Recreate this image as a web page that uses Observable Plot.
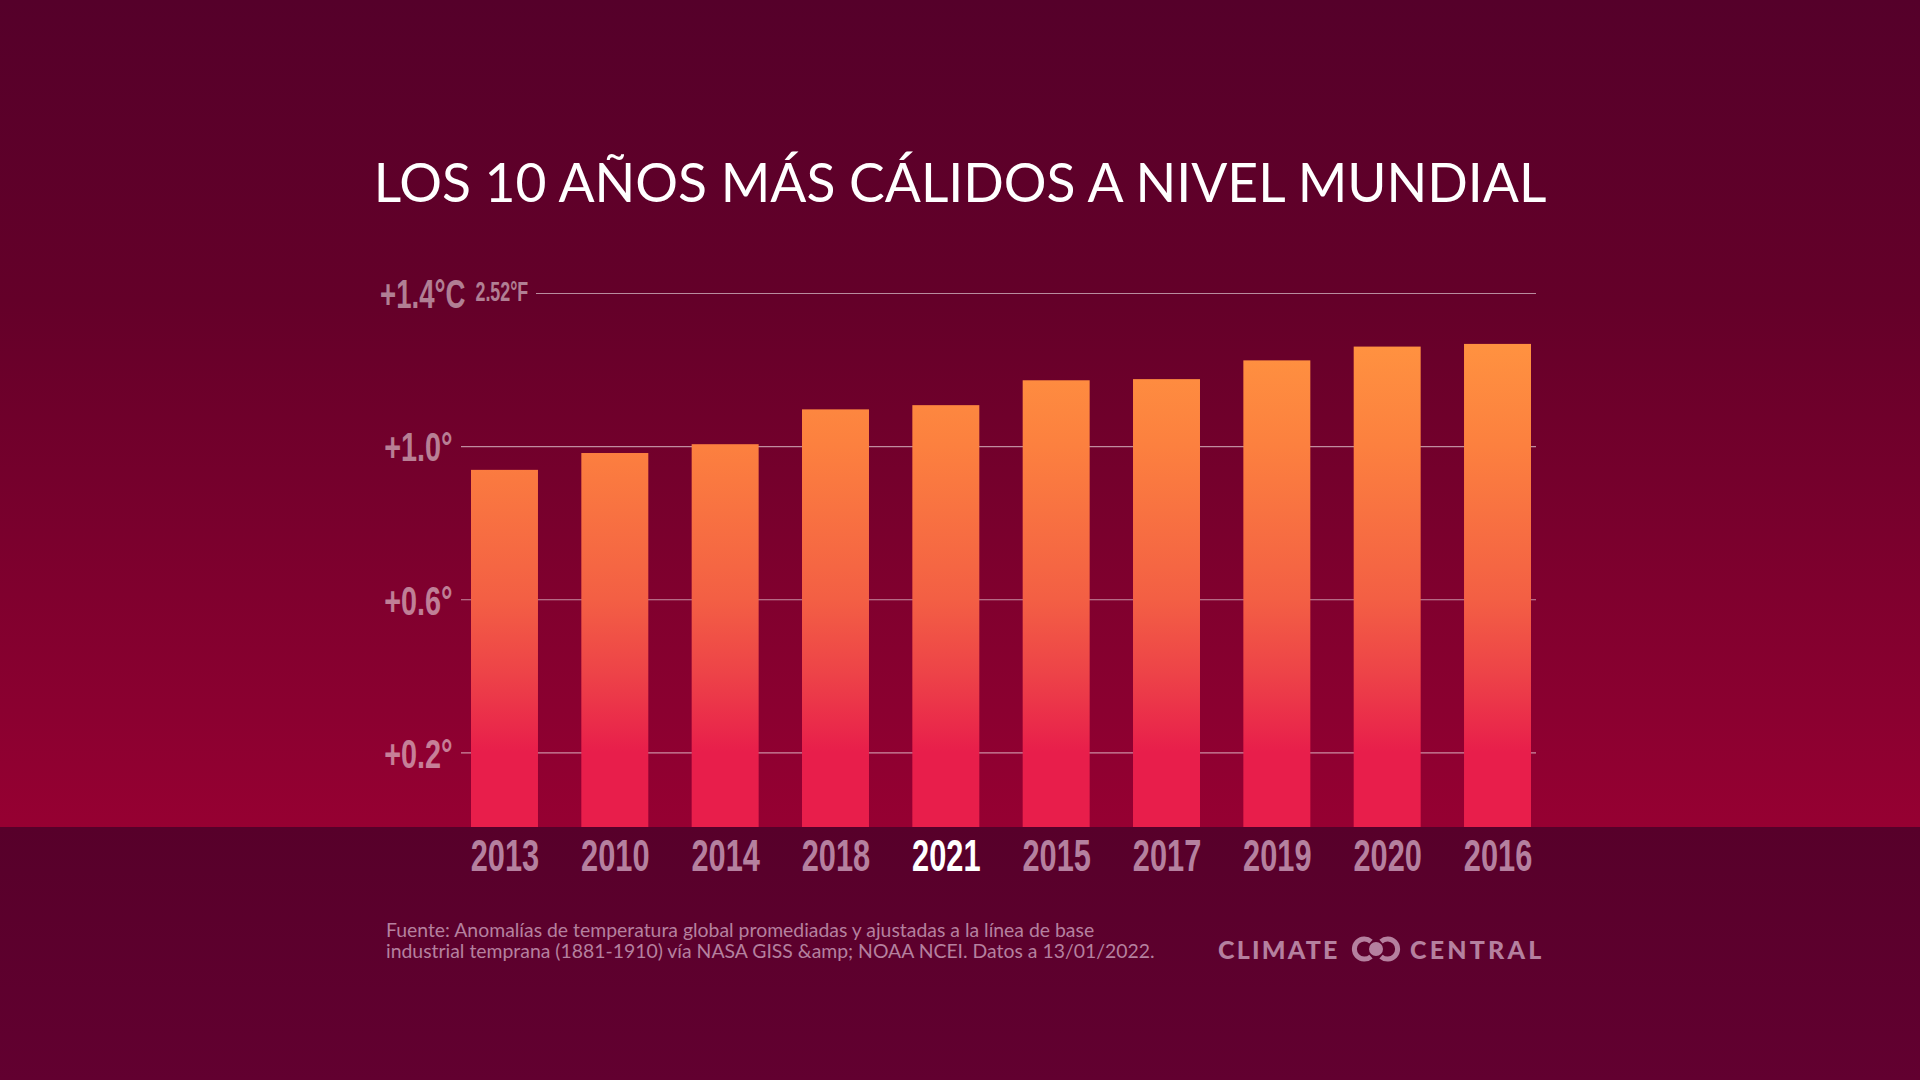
<!DOCTYPE html>
<html lang="es">
<head>
<meta charset="utf-8">
<script src="https://cdn.jsdelivr.net/npm/d3@7"></script>
<script src="https://cdn.jsdelivr.net/npm/@observablehq/plot@0.6"></script>
<style>
html,body{margin:0;padding:0;width:1920px;height:1080px;overflow:hidden}
body{position:relative;background:linear-gradient(to bottom,#55002a 0px,#640029 300px,#960032 827px,#57002a 827px,#620030 1080px);font-family:Lato,sans-serif}
#chart{position:absolute;left:0;top:0}
#chart svg{background:transparent;display:block}
h1{position:absolute;left:0;width:1920px;text-align:center;top:146px;margin:0;color:#fff;font:400 53.4px/70px Lato,sans-serif;letter-spacing:0}
#source{position:absolute;left:386px;top:919px;color:#b5809f;font:400 19.4px/21px Lato,sans-serif;white-space:nowrap}
.logo{position:absolute;top:932px;color:#b5809f;font:900 25px/34px Lato,sans-serif;letter-spacing:2.2px;white-space:nowrap}
#icon{position:absolute;left:1350px;top:936px}
</style>
</head>
<body>
<h1 id="title"></h1>
<div id="chart"></div>
<div id="source"></div>
<div class="logo" style="left:1218px">CLIMATE</div>
<svg id="icon" width="52" height="26" viewBox="0 0 52 26">
  <path d="M21 5.5A10 10 0 1 0 21 20.5" fill="none" stroke="#b5809f" stroke-width="5"/>
  <path d="M31 5.5A10 10 0 1 1 31 20.5" fill="none" stroke="#b5809f" stroke-width="5"/>
  <circle cx="26" cy="13" r="7" fill="#b5809f"/>
</svg>
<div class="logo" style="left:1410px;letter-spacing:3.2px">CENTRAL</div>
<script>
const titleText = "LOS 10 AÑOS MÁS CÁLIDOS A NIVEL MUNDIAL";
const sourceLines = [
  "Fuente: Anomalías de temperatura global promediadas y ajustadas a la línea de base",
  "industrial temprana (1881-1910) vía NASA GISS &amp; NOAA NCEI. Datos a 13/01/2022."
];
const years = ["2013","2010","2014","2018","2021","2015","2017","2019","2020","2016"];
const anomalies = [0.938,0.982,1.005,1.096,1.107,1.172,1.175,1.224,1.26,1.267];
const lowerTicks = [0.2,0.6,1.0];
const topTick = [1.4];
const highlightYear = ["2021"];
const fahrenheitLabel = ["2.52°F"];
const gradientValues = [1.27,1.0,0.6,0.4,0.2];
const gradientColors = ["#ff9240","#fc803f","#f35f44","#ed4248","#e81e4b"];
const muted = "#b5809f";
const baseValue = 0.005;

document.getElementById("title").textContent = titleText;
sourceLines.forEach(l => { const d = document.createElement("div"); d.textContent = l; document.getElementById("source").appendChild(d); });

const rows = years.map((year,i) => ({year, value: anomalies[i]}));
const condensed = '"Liberation Sans",sans-serif';

const gradientMark = (index, scales) => {
  const defs = d3.create("svg:defs");
  const hi = gradientValues[0], lo = gradientValues[gradientValues.length-1];
  const g = defs.append("linearGradient").attr("id","barFill")
    .attr("gradientUnits","userSpaceOnUse")
    .attr("x1",0).attr("x2",0)
    .attr("y1",scales.y(hi)).attr("y2",scales.y(lo));
  gradientValues.forEach((v,i) => g.append("stop").attr("offset",(hi-v)/(hi-lo)).attr("stop-color",gradientColors[i]));
  return defs.node();
};

const plot = Plot.plot({
  width:1920, height:1080,
  marginLeft:461, marginRight:384, marginTop:293, marginBottom:253,
  style:{background:"transparent", fontFamily:condensed, overflow:"visible"},
  x:{type:"band", domain:years, range:[471,1531], paddingInner:0.393, paddingOuter:0, round:false, label:null},
  y:{domain:[baseValue,1.4], label:null},
  marks:[
    gradientMark,
    Plot.ruleY(lowerTicks,{stroke:"#fff", strokeOpacity:0.55, strokeWidth:1.2}),
    Plot.ruleY(topTick,{stroke:"#fff", strokeOpacity:0.55, strokeWidth:1.2, insetLeft:75}),
    Plot.barY(rows,{x:"year", y1:() => baseValue, y2:"value", fill:"url(#barFill)"}),
    Plot.axisY(lowerTicks,{anchor:"left", tickSize:0, tickPadding:9, fontSize:40, fontWeight:700, fill:"#fff", fillOpacity:0.5, dy:2, label:null,
      tickFormat:d => "+"+d.toFixed(1)+"°"}),
    Plot.axisY(topTick,{anchor:"left", tickSize:0, tickPadding:-4, fontSize:40, fontWeight:700, fill:"#fff", fillOpacity:0.5, dy:2, label:null,
      tickFormat:d => "+"+d.toFixed(1)+"°C"}),
    Plot.text(fahrenheitLabel,{y:() => topTick[0], text:d => d, frameAnchor:"left", dx:14, textAnchor:"start", fontSize:27, fontWeight:700, fill:"#fff", fillOpacity:0.5, dy:-1}),
    Plot.axisX(years.filter(y => !highlightYear.includes(y)),{anchor:"bottom", tickSize:0, tickPadding:12, fontSize:44, fontWeight:700, color:muted, label:null}),
    Plot.axisX(highlightYear,{anchor:"bottom", tickSize:0, tickPadding:12, fontSize:44, color:"#fff", fontWeight:700, label:null})
  ]
});
document.getElementById("chart").appendChild(plot);

// squeeze glyphs horizontally, about each text's own anchor, to the reference's very condensed letterforms
plot.querySelectorAll("text").forEach(t => {
  const tr = t.getAttribute("transform") || "";
  const s = t.textContent;
  const k = /^\d{4}$/.test(s) ? 0.7 : s.endsWith("°C") ? 0.69 : s.endsWith("°F") ? 0.66 : 0.72;
  t.setAttribute("transform", tr + ` scale(${k},1)`);
});
</script>
</body>
</html>
